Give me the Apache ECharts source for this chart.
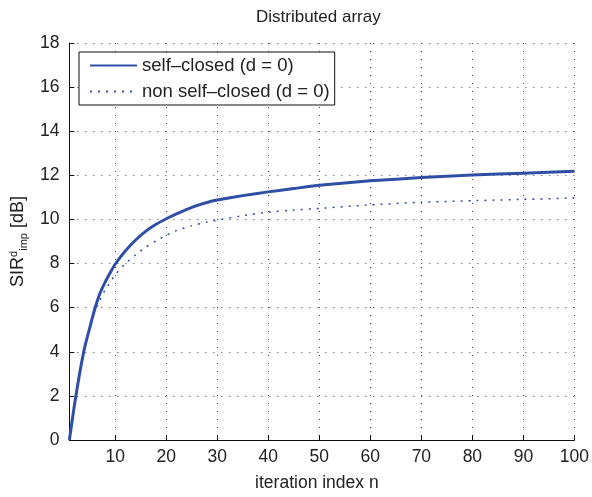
<!DOCTYPE html>
<html>
<head>
<meta charset="utf-8">
<script src="https://cdn.jsdelivr.net/npm/echarts@6/dist/echarts.min.js"></script>
<style>
  html, body { margin: 0; padding: 0; background: #fff; }
  #main { width: 592px; height: 497px; }
</style>
</head>
<body>
<div id="main"></div>
<script>
// iteration index n
var iterations = [1, 2, 3, 4, 5, 6, 7, 8, 9, 10, 12, 14, 16, 18, 20, 22, 25, 28, 30, 35, 40, 45, 50, 60, 70, 80, 90, 100];
// self-closed (d = 0)
var selfClosed = [0, 1.6, 3.0, 4.2, 5.1, 5.95, 6.65, 7.15, 7.58, 7.98, 8.58, 9.07, 9.47, 9.78, 10.03, 10.25, 10.55, 10.77, 10.88, 11.08, 11.25, 11.4, 11.55, 11.75, 11.9, 12.02, 12.1, 12.18];
// non self-closed (d = 0)
var nonSelfClosed = [0, 1.6, 3.0, 4.2, 5.1, 5.85, 6.35, 6.8, 7.15, 7.5, 8.0, 8.4, 8.75, 9.03, 9.28, 9.5, 9.72, 9.88, 9.97, 10.17, 10.33, 10.43, 10.5, 10.66, 10.78, 10.85, 10.91, 10.97];
var xTicks = [10, 20, 30, 40, 50, 60, 70, 80, 90, 100];

function pairs(xs, ys) {
	return xs.map(function (x, i) { return [x, ys[i]]; });
}

var font = 'Liberation Sans';
var blue = '#2f4fa6';

var myChart = echarts.init(document.getElementById('main'));
var option = {
	animation: false,
	backgroundColor: '#fff',
	textStyle: { fontFamily: font },
	title: {
		text: 'Distributed array',
		left: 251,
		top: 4,
		textStyle: { fontSize: 17, fontWeight: 'normal', color: '#222', fontFamily: font }
	},
	legend: {
		orient: 'vertical',
		left: 79,
		top: 52,
		padding: [4, 5, 4, 10],
		itemWidth: 47,
		itemHeight: 14,
		itemGap: 7,
		backgroundColor: '#fff',
		borderColor: '#111',
		borderWidth: 1,
		itemStyle: { opacity: 0 },
		textStyle: { fontSize: 18.5, color: '#222', fontFamily: font },
		data: ['self\u2013closed (d = 0)', 'non self\u2013closed (d = 0)']
	},
	grid: { left: 69, right: 16, top: 43, bottom: 54 },
	xAxis: {
		type: 'value',
		min: 1,
		max: 100,
		name: 'iteration index n',
		nameLocation: 'middle',
		nameGap: 34,
		nameTextStyle: { fontSize: 17.5, color: '#222', padding: [0, 10, 0, 0] },
		axisLine: { lineStyle: { color: '#111', width: 1 } },
		axisTick: { inside: true, length: 5, customValues: xTicks, lineStyle: { color: '#111' } },
		axisLabel: { customValues: xTicks, fontSize: 17.5, color: '#222', margin: 8 },
		splitLine: { show: true, customValues: xTicks, lineStyle: { color: '#444', type: [1, 7], width: 1 } }
	},
	yAxis: {
		type: 'value',
		min: 0,
		max: 18,
		interval: 2,
		name: 'SIR{sup|d}{sub|imp} [dB]',
		nameLocation: 'middle',
		nameGap: 36,
		nameTextStyle: {
			fontSize: 18,
			color: '#222',
			rich: {
				sup: { fontSize: 11, color: '#222', padding: [0, 0, 10, 0] },
				sub: { fontSize: 11, color: '#222', padding: [10, 0, 0, 0] }
			}
		},
		axisLine: { show: true, lineStyle: { color: '#111', width: 1 } },
		axisTick: { show: true, inside: true, length: 5, lineStyle: { color: '#111' } },
		axisLabel: { fontSize: 17.5, color: '#222', margin: 10 },
		splitLine: { show: true, lineStyle: { color: '#444', type: [1, 7], width: 1 } }
	},
	series: [
		{
			name: 'self\u2013closed (d = 0)',
			type: 'line',
			data: pairs(iterations, selfClosed),
			smooth: 0.15,
			symbol: 'none',
			color: blue,
			lineStyle: { color: blue, width: 3, join: 'round' },
			z: 3
		},
		{
			name: 'non self\u2013closed (d = 0)',
			type: 'line',
			data: pairs(iterations, nonSelfClosed),
			smooth: 0.15,
			symbol: 'none',
			color: blue,
			lineStyle: { color: blue, width: 1.5, type: [2, 6] },
			z: 2
		}
	]
};
myChart.setOption(option);
</script>
</body>
</html>
